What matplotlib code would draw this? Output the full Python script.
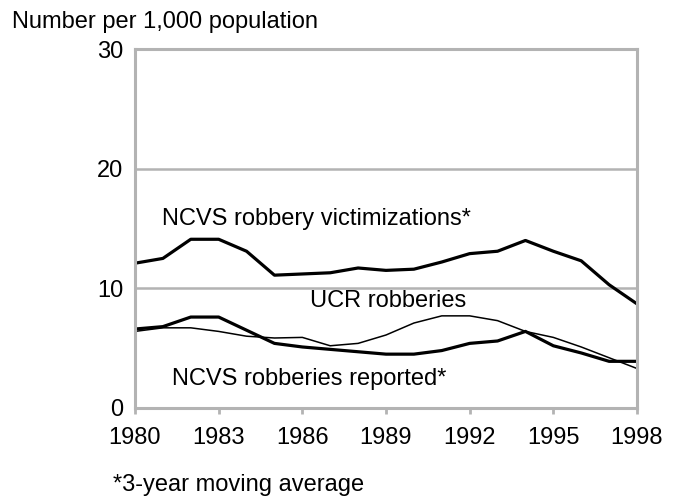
import matplotlib.pyplot as plt

plt.rcParams.update({'font.size': 17, 'font.family': ['Liberation Sans', 'DejaVu Sans']})

years = list(range(1980, 1999))
victimizations = [12.1, 12.5, 14.1, 14.1, 13.1, 11.1, 11.2, 11.3, 11.7, 11.5,
                  11.6, 12.2, 12.9, 13.1, 14.0, 13.1, 12.3, 10.3, 8.7]
reported = [6.6, 6.8, 7.6, 7.6, 6.5, 5.4, 5.1, 4.9, 4.7, 4.5,
            4.5, 4.8, 5.4, 5.6, 6.4, 5.2, 4.6, 3.9, 3.9]
ucr = [6.4, 6.7, 6.7, 6.4, 6.0, 5.85, 5.9, 5.2, 5.4, 6.1,
       7.1, 7.7, 7.7, 7.3, 6.4, 5.9, 5.1, 4.2, 3.3]
xticks = [1980, 1983, 1986, 1989, 1992, 1995, 1998]
yticks = [0, 10, 20, 30]

gray = '#b3b3b3'
fig = plt.figure(figsize=(6.81, 4.99), dpi=100)
ax = fig.add_axes([135 / 681, 91 / 499, 502 / 681, 359 / 499])

ax.plot(years, ucr, color='black', lw=1.1)
ax.plot(years, reported, color='black', lw=2.3)
ax.plot(years, victimizations, color='black', lw=2.3)

ax.set_xlim(1980, 1998)
ax.set_ylim(0, 30)
ax.set_xticks(xticks)
ax.set_yticks(yticks)
for s in ax.spines.values():
    s.set_color(gray)
    s.set_linewidth(2.2)
ax.yaxis.grid(True, color=gray, lw=1.8)
ax.set_axisbelow(True)
ax.tick_params(axis='x', colors=gray, labelcolor='black', length=4, width=2, pad=10)
ax.tick_params(axis='y', length=0, pad=8.5)

ax.text(1980.97, 15.8, 'NCVS robbery victimizations*', va='center')
ax.text(1986.26, 8.9, 'UCR robberies', va='center')
ax.text(1981.33, 2.45, 'NCVS robberies reported*', va='center')

fig.text(12 / 681, 1 - 22 / 499, 'Number per 1,000 population', va='center')
fig.text(113 / 681, 1 - 485 / 499, '*3-year moving average', va='center')

plt.savefig('out.png', dpi=100)
